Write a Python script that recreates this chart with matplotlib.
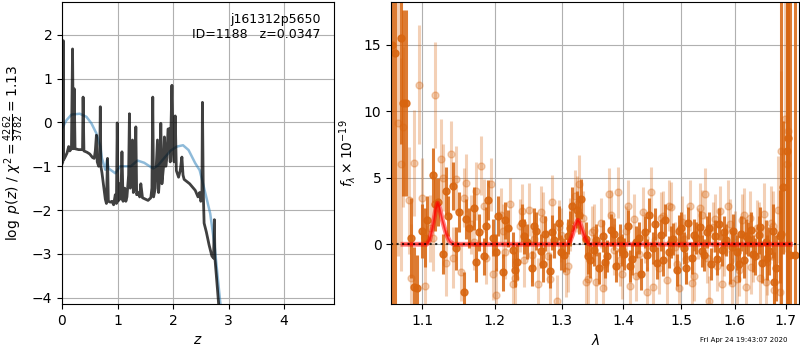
"""
plot.py -- redshift fit summary: log p(z) on the left, 1D spectrum + line model on the right.
"""

import numpy as np
import matplotlib
matplotlib.use('Agg')
import matplotlib.pyplot as plt
from matplotlib.ticker import FormatStrFormatter, NullLocator


# ============================================================
# LEFT PANEL DATA -- log p(z) and scaled chi^2 curve
# ============================================================

pz_z = [0.000, 0.015, 0.022, 0.030, 0.060, 0.090, 0.120, 0.140, 0.170, 0.190,
        0.205, 0.220, 0.235, 0.300, 0.370, 0.380, 0.395, 0.450, 0.500, 0.550,
        0.580, 0.600, 0.620, 0.635, 0.660, 0.680, 0.690, 0.700, 0.720, 0.750,
        0.780, 0.800, 0.820, 0.835, 0.870, 0.900, 0.930, 0.960, 0.980, 0.995,
        1.010, 1.040, 1.060, 1.080, 1.100, 1.130, 1.150, 1.170, 1.200, 1.215,
        1.230, 1.260, 1.270, 1.285, 1.310, 1.330, 1.345, 1.370, 1.400, 1.420,
        1.450, 1.500, 1.550, 1.600, 1.620, 1.635, 1.650, 1.680, 1.720, 1.740,
        1.760, 1.780, 1.800, 1.830, 1.845, 1.870, 1.890, 1.910, 1.935, 1.950,
        1.980, 2.000, 2.020, 2.040, 2.060, 2.100, 2.130, 2.160, 2.180, 2.200,
        2.300, 2.400, 2.450, 2.480, 2.500, 2.520, 2.530, 2.545, 2.560, 2.600,
        2.650, 2.700, 2.730, 2.745, 2.755, 2.800, 2.850]
pz_logp = [-0.95, -0.90, 1.87, -0.85, -0.78, -0.70, -0.55, -0.65, -0.60, 1.68,
           -0.60, 0.77, -0.60, -0.62, -0.62, 0.58, -0.65, -0.68, -0.72, -0.80,
           -0.82, -0.65, -0.29, -0.90, -1.00, -0.85, 0.36, -1.00, -1.15, -1.45,
           -1.75, -1.85, -0.82, -1.80, -1.82, -1.80, -1.88, -1.65, -1.85, -0.01,
           -1.80, -1.40, -1.75, -0.67, -1.80, -1.50, -1.80, -1.70, -1.20, 0.20,
           -1.50, -1.20, -0.40, -1.60, -1.50, -0.10, -1.65, -1.60, -1.70, -1.40,
           -1.72, -1.75, -1.78, -1.72, -1.50, 0.58, -1.70, -1.50, -0.40, -1.60,
           -1.20, -0.02, -1.40, -1.00, -0.33, -1.00, -0.80, -0.15, -0.14, -0.90,
           0.85, -0.60, -0.90, 0.15, -1.10, -1.25, -1.10, -0.79, -1.20, -1.30,
           -1.40, -1.55, -1.70, -1.60, -1.80, -1.75, 0.46, -1.60, -2.30, -2.50,
           -2.80, -3.05, -3.10, -2.22, -3.10, -3.80, -4.60]

chi_z = [0.00, 0.08, 0.17, 0.32, 0.44, 0.53, 0.62, 0.69, 0.72, 0.78,
         0.81, 0.84, 0.96, 1.05, 1.24, 1.36, 1.48, 1.64, 1.73, 1.85,
         1.96, 2.07, 2.18, 2.28, 2.40, 2.48, 2.57, 2.67, 2.75, 2.85, 2.90]
chi_val = [-0.14, 0.05, 0.18, 0.20, 0.13, -0.02, -0.25, -0.55, -0.82, -1.08,
           -0.86, -1.05, -1.16, -1.00, -1.00, -0.87, -0.92, -1.05, -0.98, -0.80,
           -0.64, -0.55, -0.52, -0.63, -0.93, -1.09, -1.55, -2.08, -2.83, -4.10, -4.60]

OBJ_NAME = 'j161312p5650'
OBJ_ID = 1188
Z_BEST = 0.0347
CHI2_NUM, CHI2_DEN, CHI2_RED = 4262, 3782, 1.13


# ============================================================
# RIGHT PANEL DATA -- 1D spectra (dark = A/C, faint = B/D) and line model
# ============================================================

wave_a = [1.065, 1.072, 1.079, 1.086, 1.093, 1.100, 1.107, 1.114, 1.121, 1.128,
          1.135, 1.142, 1.149, 1.156, 1.163, 1.170, 1.177, 1.184, 1.191, 1.198,
          1.205, 1.212, 1.219, 1.226, 1.233, 1.240, 1.247, 1.254, 1.261, 1.268,
          1.275, 1.282, 1.289, 1.296, 1.303, 1.310, 1.317, 1.324, 1.331, 1.338,
          1.345, 1.352, 1.359, 1.366, 1.373, 1.380, 1.387, 1.394, 1.401, 1.408,
          1.415, 1.422, 1.429, 1.436, 1.443, 1.450, 1.457, 1.464, 1.471, 1.478,
          1.485, 1.492, 1.499, 1.506, 1.513, 1.520, 1.527, 1.534, 1.541, 1.548,
          1.555, 1.562, 1.569, 1.576, 1.583, 1.590, 1.597, 1.604, 1.611, 1.618,
          1.625, 1.632, 1.639, 1.646, 1.653, 1.660, 1.667, 1.674, 1.681, 1.688,
          1.695, 1.702, 1.709]
flux_a = [14.4, 15.5, 10.6, 0.5, -3.3, 1.0, 1.8, 5.2, 3.2, -0.7,
          2.1, 4.4, 2.4, -3.6, 1.2, 2.7, 0.9, -0.9, 3.3, 0.5,
          2.1, -2.1, 1.2, -0.4, -1.3, 1.6, 0.2, -1.8, 1.0, -0.5,
          0.8, -2.0, 0.3, 1.6, -0.8, 0.6, 2.9, 2.6, 3.4, 0.4,
          -1.2, -0.4, -1.8, 0.6, -0.9, 1.1, -1.6, 0.3, -0.7, 1.4,
          -1.1, 0.2, -2.2, 0.9, 2.2, -0.3, -1.4, 0.7, 1.8, -0.6,
          0.4, -1.9, 1.2, -0.3, 1.6, -1.0, 0.5, 1.3, -0.8, 0.9,
          -1.5, 0.6, 1.5, -0.4, 0.3, -1.7, 1.0, -0.6, 0.8, -1.2,
          0.4, 1.1, -0.9, 0.7, -1.4, 0.2, -0.5, 1.0, -1.8, 0.6,
          4.3, 7.0, -0.8]
err_a = [25, 8, 7, 3.0, 2.5, 2.0, 1.8, 2.0, 1.8, 1.5,
         1.5, 1.8, 1.5, 1.5, 1.5, 1.6, 1.4, 1.4, 1.5, 1.4,
         1.5, 1.4, 1.4, 1.3, 1.4, 1.4, 1.3, 1.3, 1.4, 1.3,
         1.3, 1.3, 1.3, 1.3, 1.3, 1.3, 1.4, 1.4, 1.5, 1.3,
         1.3, 1.2, 1.2, 1.2, 1.2, 1.2, 1.2, 1.2, 1.2, 1.2,
         1.2, 1.2, 1.2, 1.2, 1.3, 1.2, 1.2, 1.2, 1.2, 1.2,
         1.2, 1.2, 1.2, 1.2, 1.2, 1.2, 1.2, 1.2, 1.2, 1.2,
         1.2, 1.2, 1.2, 1.2, 1.2, 1.3, 1.3, 1.3, 1.3, 1.3,
         1.3, 1.3, 1.4, 1.4, 1.5, 1.6, 1.8, 2.0, 2.5, 3.5,
         5, 25, 25]

wave_c = [1.0615, 1.0755, 1.0895, 1.1035, 1.1175, 1.1315, 1.1455, 1.1595, 1.1735, 1.1875,
          1.2015, 1.2155, 1.2295, 1.2435, 1.2575, 1.2715, 1.2855, 1.2995, 1.3135, 1.3275,
          1.3415, 1.3555, 1.3695, 1.3835, 1.3975, 1.4115, 1.4255, 1.4395, 1.4535, 1.4675,
          1.4815, 1.4955, 1.5095, 1.5235, 1.5375, 1.5515, 1.5655, 1.5795, 1.5935, 1.6075,
          1.6215, 1.6355, 1.6495, 1.6635, 1.6775, 1.6915, 1.7055, 1.7195]
flux_c = [15.0, 10.6, -3.2, 0.5, 3.0, 4.0, -0.3, 1.9, -1.3, 1.4,
          -0.6, 1.8, -1.9, 0.6, 1.4, -1.5, 0.9, -0.6, 1.2, 2.2,
          -0.9, 0.3, -1.3, 0.8, -0.4, -1.6, 0.5, -0.8, 1.5, -1.2,
          0.2, 1.0, -1.8, 0.7, -0.5, 1.2, -1.1, 0.9, -0.2, -1.5,
          0.6, -0.7, 1.3, -1.0, -2.8, 0.8, 8.0, -0.8]
err_c = [25, 7, 3.0, 2.2, 2.0, 1.8, 1.6, 1.5, 1.5, 1.4,
         1.4, 1.4, 1.3, 1.3, 1.3, 1.3, 1.3, 1.3, 1.3, 1.4,
         1.3, 1.2, 1.2, 1.2, 1.2, 1.2, 1.2, 1.2, 1.2, 1.2,
         1.2, 1.2, 1.2, 1.2, 1.2, 1.2, 1.2, 1.2, 1.3, 1.3,
         1.3, 1.4, 1.5, 1.7, 2.2, 20, 25, 25]

wave_b = [1.0685, 1.0755, 1.0825, 1.0895, 1.0965, 1.1035, 1.1105, 1.1175, 1.1245, 1.1315,
          1.1385, 1.1455, 1.1525, 1.1595, 1.1665, 1.1735, 1.1805, 1.1875, 1.1945, 1.2015,
          1.2085, 1.2155, 1.2225, 1.2295, 1.2365, 1.2435, 1.2505, 1.2575, 1.2645, 1.2715,
          1.2785, 1.2855, 1.2925, 1.2995, 1.3065, 1.3135, 1.3205, 1.3275, 1.3345, 1.3415,
          1.3485, 1.3555, 1.3625, 1.3695, 1.3765, 1.3835, 1.3905, 1.3975, 1.4045, 1.4115,
          1.4185, 1.4255, 1.4325, 1.4395, 1.4465, 1.4535, 1.4605, 1.4675, 1.4745, 1.4815,
          1.4885, 1.4955, 1.5025, 1.5095, 1.5165, 1.5235, 1.5305, 1.5375, 1.5445, 1.5515,
          1.5585, 1.5655, 1.5725, 1.5795, 1.5865, 1.5935, 1.6005, 1.6075, 1.6145, 1.6215,
          1.6285, 1.6355, 1.6425, 1.6495, 1.6565, 1.6635, 1.6705, 1.6775, 1.6845, 1.6915,
          1.6985, 1.7055]
flux_b = [9.1, 8.8, 3.3, 6.1, 12.0, -3.1, 1.2, 11.2, 6.4, -1.4,
          6.8, 4.9, -2.1, 4.6, 1.5, 4.0, 5.9, -1.0, 4.5, -3.8,
          2.2, -0.6, 3.0, -2.5, 1.4, -1.2, 2.6, 0.4, -3.0, 1.9,
          -0.9, 3.2, -4.3, 0.7, -2.0, 1.5, 3.6, 4.5, 2.0, -2.6,
          0.9, -2.8, 1.6, -1.5, 3.8, -0.4, 3.9, -2.2, 1.0, -3.1,
          1.9, -0.7, 2.4, -3.6, 3.9, 0.3, -1.8, 2.1, -2.7, 2.8,
          -0.2, -3.3, 1.7, -1.1, 2.9, -2.4, 0.8, 2.2, 3.8, -4.3,
          1.3, -1.6, 2.5, -0.5, 2.9, -2.9, 0.6, -1.9, 1.8, -3.2,
          2.0, -0.8, 1.2, -2.5, 2.3, -1.3, 1.6, -3.4, 2.6, 7.0,
          9.4, 8.5]
err_b = [10, 6, 4, 4, 4.5, 3, 2.5, 4, 3, 2.5,
         2.5, 2.5, 2.2, 2.2, 2.2, 2.2, 2.2, 2.0, 2.0, 2.0,
         2.0, 2.0, 2.0, 2.0, 2.0, 2.0, 2.0, 2.0, 2.0, 2.0,
         2.0, 2.0, 2.0, 2.0, 2.0, 2.0, 2.0, 2.2, 2.0, 2.0,
         2.0, 1.9, 1.9, 1.9, 1.9, 1.9, 1.9, 1.9, 1.9, 1.9,
         1.9, 1.9, 1.9, 1.9, 1.9, 1.9, 1.9, 1.9, 1.9, 1.9,
         1.9, 1.9, 1.9, 1.9, 1.9, 1.9, 1.9, 1.9, 1.9, 1.9,
         1.9, 1.9, 1.9, 1.9, 1.9, 1.9, 1.9, 2.0, 2.0, 2.0,
         2.0, 2.0, 2.1, 2.2, 2.3, 2.5, 2.8, 3.2, 4, 6,
         10, 12]

wave_d = [1.072, 1.086, 1.100, 1.114, 1.128, 1.142, 1.156, 1.170, 1.184, 1.198,
          1.212, 1.226, 1.240, 1.254, 1.268, 1.282, 1.296, 1.310, 1.324, 1.338,
          1.352, 1.366, 1.380, 1.394, 1.408, 1.422, 1.436, 1.450, 1.464, 1.478,
          1.492, 1.506, 1.520, 1.534, 1.548, 1.562, 1.576, 1.590, 1.604, 1.618,
          1.632, 1.646, 1.660, 1.674, 1.688, 1.702]
flux_d = [6.0, -2.5, 3.5, 0.5, 5.0, -1.0, 3.5, 0.2, 2.9, -2.2,
          1.0, -3.0, 2.5, -0.8, 2.4, -2.6, 1.3, -1.6, 3.0, -2.8,
          1.1, -3.3, 2.2, -1.2, 2.9, -2.4, 0.5, -3.2, 2.0, 2.9,
          -1.5, 0.4, -2.9, 2.7, -1.0, 1.9, -3.0, 1.5, -2.6, 2.2,
          -1.7, 1.1, -2.8, 1.4, -3.6, 6.0]
err_d = [8, 4, 3, 2.5, 2.5, 2.3, 2.2, 2.1, 2.0, 2.0,
         2.0, 2.0, 2.0, 2.0, 2.0, 2.0, 2.0, 2.0, 2.1, 2.0,
         1.9, 1.9, 1.9, 1.9, 1.9, 1.9, 1.9, 1.9, 1.9, 1.9,
         1.9, 1.9, 1.9, 1.9, 1.9, 1.9, 1.9, 1.9, 2.0, 2.0,
         2.0, 2.1, 2.3, 2.6, 3.5, 12]

# Line model: two Gaussian-ish emission features on a zero continuum
model_wave = [1.075, 1.106, 1.110, 1.114, 1.118, 1.1205, 1.123, 1.127, 1.132, 1.137,
              1.142, 1.309, 1.313, 1.317, 1.321, 1.3255, 1.329, 1.333, 1.337, 1.341,
              1.345, 1.710]
model_flux = [0.0, 0.0, 0.3, 1.3, 2.6, 3.1, 2.8, 1.8, 0.8, 0.2,
              0.0, 0.0, 0.2, 0.7, 1.4, 1.8, 1.6, 1.0, 0.5, 0.1,
              0.0, 0.0]

TIMESTAMP = 'Fri Apr 24 19:43:07 2020'


# ============================================================
# PLOTTING
# ============================================================

DARK_ORANGE = '#d8650f'

fig = plt.figure(figsize=(8, 3.5), dpi=100)
ax1 = fig.add_axes([0.0775, 0.131, 0.340, 0.863])
ax2 = fig.add_axes([0.489, 0.131, 0.510, 0.863])

# --- p(z)
ax1.plot(chi_z, chi_val, color='tab:blue', alpha=0.5, linewidth=1.8)
ax1.plot(pz_z, pz_logp, color='k', alpha=0.75, linewidth=2)
ax1.set_xlim(0, 4.9)
ax1.set_ylim(-4.15, 2.75)
ax1.set_xticks([0, 1, 2, 3, 4])
ax1.set_yticks([-4, -3, -2, -1, 0, 1, 2])
ax1.grid(True)
ax1.set_xlabel('$z$')
ax1.set_ylabel(r'$\log\ p(z)$ / $\chi^2=\frac{%d}{%d}=%.2f$'
               % (CHI2_NUM, CHI2_DEN, CHI2_RED))
ax1.text(0.95, 0.965, '%s\nID=%d   z=%.4f' % (OBJ_NAME, OBJ_ID, Z_BEST),
         transform=ax1.transAxes, ha='right', va='top', fontsize=9)

# --- spectrum: faint sets first, dark sets on top
for w, f, e in [(wave_b, flux_b, err_b), (wave_d, flux_d, err_d)]:
    ax2.errorbar(w, f, yerr=e, color=DARK_ORANGE, alpha=0.3,
                 marker='o', markersize=5, linestyle='none', elinewidth=2.2)
for w, f, e in [(wave_a, flux_a, err_a), (wave_c, flux_c, err_c)]:
    ax2.errorbar(w, f, yerr=e, color=DARK_ORANGE, alpha=0.85,
                 marker='o', markersize=5, linestyle='none', elinewidth=2.2)
ax2.plot(model_wave, model_flux, color='r', alpha=0.5, linewidth=3.5, zorder=5)
ax2.plot(model_wave, model_flux, color='r', alpha=0.7, linewidth=1.2, zorder=5)
ax2.axhline(0, color='k', linestyle=':', linewidth=1.5, alpha=0.8, zorder=6)

ax2.set_xscale('log')
ax2.set_xlim(1.06, 1.728)
ax2.set_ylim(-4.5, 18.2)
ax2.set_xticks([1.1, 1.2, 1.3, 1.4, 1.5, 1.6, 1.7])
ax2.xaxis.set_major_formatter(FormatStrFormatter('%.1f'))
ax2.xaxis.set_minor_locator(NullLocator())
ax2.set_yticks([0, 5, 10, 15])
ax2.grid(True)
ax2.set_xlabel(r'$\lambda$')
ax2.set_ylabel(r'$f_\lambda \times 10^{-19}$')

fig.text(0.984, 0.029, TIMESTAMP, ha='right', va='center', fontsize=5)

fig.savefig('out.png', dpi=100)
